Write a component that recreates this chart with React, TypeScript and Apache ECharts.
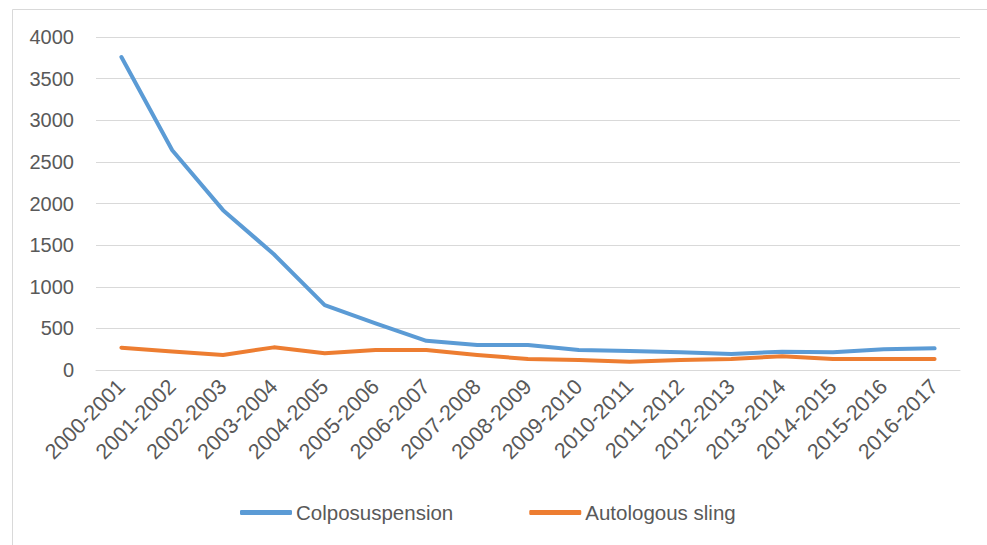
import React, { useEffect, useRef } from "react";
import * as echarts from "echarts";

const categories = [
  "2000-2001", "2001-2002", "2002-2003", "2003-2004", "2004-2005", "2005-2006",
  "2006-2007", "2007-2008", "2008-2009", "2009-2010", "2010-2011", "2011-2012",
  "2012-2013", "2013-2014", "2014-2015", "2015-2016", "2016-2017",
];
const colposuspension = [3760, 2640, 1920, 1390, 780, 560, 350, 300, 300, 240, 228, 212, 192, 220, 212, 248, 260];
const autologousSling = [268, 222, 180, 272, 200, 240, 240, 180, 132, 120, 100, 120, 132, 165, 132, 132, 132];
const yTicks = { min: 0, max: 4000, interval: 500 };

export default function App() {
  const ref = useRef<HTMLDivElement>(null);
  useEffect(() => {
    if (!ref.current) return;
    const chart = echarts.init(ref.current, null, { renderer: "svg" });
    const font = "'Liberation Sans', Arial, sans-serif";
    chart.setOption({
      animation: false,
      backgroundColor: "#ffffff",
      grid: { left: 96, right: 27, top: 37, bottom: 175 },
      graphic: [
        { type: "line", shape: { x1: 12.5, y1: 9.5, x2: 987, y2: 9.5 }, style: { stroke: "#D9D9D9", lineWidth: 1 } },
        { type: "line", shape: { x1: 12.5, y1: 9.5, x2: 12.5, y2: 545 }, style: { stroke: "#D9D9D9", lineWidth: 1 } },
      ],
      legend: {
        left: 235,
        top: 497,
        icon: "roundRect",
        itemWidth: 52,
        itemHeight: 5,
        itemGap: 76,
        textStyle: { color: "#595959", fontSize: 20.5, fontFamily: font, padding: [0, 0, 0, -1] },
        data: ["Colposuspension", "Autologous sling"],
      },
      xAxis: {
        type: "category",
        data: categories,
        boundaryGap: true,
        axisLine: { show: true, lineStyle: { color: "#D9D9D9", width: 1 } },
        axisTick: { show: false },
        axisLabel: { rotate: 45, color: "#595959", fontSize: 21.5, fontFamily: font, margin: 13, interval: 0 },
      },
      yAxis: {
        type: "value",
        min: yTicks.min,
        max: yTicks.max,
        interval: yTicks.interval,
        axisLine: { show: false },
        axisTick: { show: false },
        splitLine: { lineStyle: { color: "#D9D9D9", width: 1 } },
        axisLabel: { color: "#595959", fontSize: 20, fontFamily: font, margin: 22, formatter: (v: number) => String(v) },
      },
      series: [
        {
          name: "Colposuspension",
          type: "line",
          data: colposuspension,
          symbol: "none",
          lineStyle: { color: "#5B9BD5", width: 4, cap: "round", join: "round" },
          itemStyle: { color: "#5B9BD5" },
        },
        {
          name: "Autologous sling",
          type: "line",
          data: autologousSling,
          symbol: "none",
          lineStyle: { color: "#ED7D31", width: 4, cap: "round", join: "round" },
          itemStyle: { color: "#ED7D31" },
        },
      ],
    });
    return () => chart.dispose();
  }, []);
  return <div ref={ref} style={{ position: "fixed", left: 0, top: 0, width: 987, height: 545 }} />;
}
